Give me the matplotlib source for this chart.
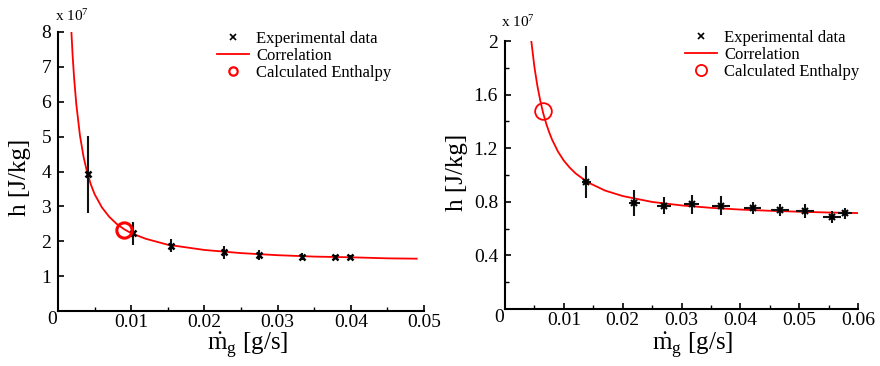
import matplotlib
matplotlib.use("Agg")
import matplotlib.pyplot as plt
from matplotlib.lines import Line2D

plt.rcParams['font.family'] = ['Liberation Serif', 'DejaVu Serif']
plt.rcParams['mathtext.fontset'] = 'custom'
plt.rcParams['mathtext.rm'] = 'Liberation Serif'
plt.rcParams['mathtext.it'] = 'Liberation Serif:italic'

# ---------------- data (h in units of 1e7 J/kg) ----------------
left_x = [0.00405, 0.0103, 0.0154, 0.0227, 0.0275, 0.0333, 0.0378, 0.0399]
left_y = [3.92, 2.23, 1.87, 1.68, 1.61, 1.56, 1.55, 1.55]
left_yerr = [1.10, 0.33, 0.19, 0.19, 0.14, 0.10, 0.06, 0.06]

left_corr_x = [0.00183, 0.0020, 0.0022, 0.0025, 0.0030, 0.0035, 0.0040, 0.0045,
               0.0050, 0.0060, 0.0070, 0.0080, 0.0090, 0.0100, 0.0120, 0.0150,
               0.0200, 0.0250, 0.0300, 0.0350, 0.0400, 0.0450, 0.0490]
left_corr_y = [8.00, 7.32, 6.68, 5.93, 5.03, 4.41, 3.96, 3.62,
               3.35, 2.97, 2.70, 2.50, 2.35, 2.23, 2.07, 1.90,
               1.75, 1.66, 1.60, 1.56, 1.54, 1.51, 1.50]

left_calc_x = [0.0090]
left_calc_y = [2.32]

right_x = [0.0138, 0.0220, 0.0271, 0.0317, 0.0367, 0.0421, 0.0467, 0.0510, 0.0556, 0.0578]
right_y = [0.946, 0.791, 0.771, 0.783, 0.771, 0.754, 0.737, 0.730, 0.688, 0.713]
right_yerr = [0.118, 0.097, 0.062, 0.071, 0.071, 0.046, 0.046, 0.050, 0.047, 0.039]
right_xerr = [0.00074, 0.0010, 0.0012, 0.0013, 0.0015, 0.0014, 0.0015, 0.0015, 0.0015, 0.0012]

right_corr_x = [0.00447, 0.0050, 0.0055, 0.0060, 0.0065, 0.0070, 0.0075, 0.0080,
                0.0090, 0.0100, 0.0110, 0.0120, 0.0140, 0.0170, 0.0200, 0.0250,
                0.0300, 0.0350, 0.0400, 0.0450, 0.0500, 0.0550, 0.0600]
right_corr_y = [2.000, 1.806, 1.666, 1.554, 1.460, 1.384, 1.320, 1.264,
                1.175, 1.107, 1.055, 1.012, 0.947, 0.884, 0.843, 0.799,
                0.773, 0.755, 0.742, 0.733, 0.726, 0.720, 0.716]

right_calc_x = [0.00640]
right_calc_y = [1.48]

left_xticks = [0.01, 0.02, 0.03, 0.04, 0.05]
left_xticklabels = ['0.01', '0.02', '0.03', '0.04', '0.05']
left_yticks = [1, 2, 3, 4, 5, 6, 7, 8]
left_yticklabels = ['1', '2', '3', '4', '5', '6', '7', '8']
right_xticks = [0.01, 0.02, 0.03, 0.04, 0.05, 0.06]
right_xticklabels = ['0.01', '0.02', '0.03', '0.04', '0.05', '0.06']
right_yticks = [0.4, 0.8, 1.2, 1.6, 2.0]
right_yticklabels = ['0.4', '0.8', '1.2', '1.6', '2']

legend_labels = ['Experimental data', 'Correlation', 'Calculated Enthalpy']
xlabel = r'$\dot{\mathrm{m}}_{\mathrm{g}}$ [g/s]'
ylabel = 'h [J/kg]'

# ---------------- figure ----------------
W, H = 880, 366
fig = plt.figure(figsize=(8.8, 3.66), dpi=100)

def fx(px):
    return px / W

def fy(py):
    return 1 - py / H

axL = fig.add_axes([fx(58), fy(311), fx(424) - fx(58), fy(32) - fy(311)])
axR = fig.add_axes([fx(505), fy(309), fx(858) - fx(505), fy(41) - fy(309)])

TICK_FS = 14
LAB_FS = 18
LEG_FS = 12

def style(ax, xlim, ylim, xt, xtl, yt, ytl, xminor, yminor):
    ax.set_xlim(*xlim)
    ax.set_ylim(*ylim)
    for s in ['top', 'right']:
        ax.spines[s].set_visible(False)
    for s in ['left', 'bottom']:
        ax.spines[s].set_linewidth(1.5)
        ax.spines[s].set_color('black')
    ax.set_xticks(xt)
    ax.set_xticklabels(xtl, fontsize=TICK_FS)
    ax.set_yticks(yt)
    ax.set_yticklabels(ytl, fontsize=TICK_FS)
    ax.set_xticks(xminor, minor=True)
    ax.set_yticks(yminor, minor=True)
    ax.tick_params(which='major', direction='in', length=4, width=1.2, pad=2)
    ax.tick_params(which='minor', direction='in', length=3, width=1.0)
    ax.tick_params(axis='y', which='major', pad=5)

style(axL, (0, 0.05), (0, 8), left_xticks, left_xticklabels,
      left_yticks, left_yticklabels, [0.005, 0.015, 0.025, 0.035, 0.045], [])
style(axR, (0, 0.06), (0, 2.0), right_xticks, right_xticklabels,
      right_yticks, right_yticklabels,
      [0.005, 0.015, 0.025, 0.035, 0.045, 0.055], [0.2, 0.6, 1.0, 1.4, 1.8])

# left panel
axL.plot(left_corr_x, left_corr_y, color='red', lw=1.3, zorder=2)
axL.errorbar(left_x, left_y, yerr=left_yerr, fmt='none', ecolor='#111111',
             elinewidth=1.5, capsize=0, zorder=3)
axL.plot(left_x, left_y, 'x', color='black', ms=5, mew=1.8, zorder=4)
axL.plot(left_calc_x, left_calc_y, 'o', mfc='none', mec='red', ms=11, mew=2.2,
         zorder=5)

# right panel
axR.plot(right_corr_x, right_corr_y, color='red', lw=1.3, zorder=2)
axR.errorbar(right_x, right_y, yerr=right_yerr, xerr=right_xerr, fmt='none',
             ecolor='#111111', elinewidth=1.5, capsize=0, zorder=3)
axR.plot(right_x, right_y, 'x', color='black', ms=4, mew=1.5, zorder=4)
axR.plot(right_calc_x, right_calc_y, 'o', mfc='none', mec='red', ms=12, mew=1.3,
         zorder=5)

# axis labels
for ax, xc, yc_x, yc_y, xl_y in [(axL, 248, 20, 177, 346), (axR, 693, 457, 172, 346)]:
    fig.text(fx(xc), fy(xl_y), xlabel, fontsize=LAB_FS, ha='center', va='center')
    fig.text(fx(yc_x), fy(yc_y), ylabel, fontsize=LAB_FS, ha='center', va='center',
             rotation=90)

# corner zeros
fig.text(fx(52.5), fy(319), '0', fontsize=TICK_FS, ha='center', va='center')
fig.text(fx(499), fy(317.5), '0', fontsize=TICK_FS, ha='center', va='center')

# multiplier labels
fig.text(fx(55), fy(21), r'x 10$^{7}$', fontsize=11, ha='left', va='baseline')
fig.text(fx(501), fy(27), r'x 10$^{7}$', fontsize=11, ha='left', va='baseline')

# legends
def make_legend(ax, left_px, top_px, circle_ms, circle_mew):
    handles = [
        Line2D([], [], ls='none', marker='x', color='black', ms=5, mew=1.2),
        Line2D([], [], color='red', lw=1.3),
        Line2D([], [], ls='none', marker='o', mfc='none', mec='red', ms=circle_ms,
               mew=circle_mew),
    ]
    leg = ax.legend(handles, legend_labels, loc='upper left',
                    bbox_to_anchor=(fx(left_px), fy(top_px)),
                    bbox_transform=fig.transFigure, frameon=False,
                    fontsize=LEG_FS, borderpad=0, borderaxespad=0,
                    handlelength=1.9, handletextpad=0.45, labelspacing=0.06)
    return leg

make_legend(axL, 217, 31, 6, 1.6)
make_legend(axR, 685, 30, 8, 1.3)

fig.savefig('out.png', dpi=100)
